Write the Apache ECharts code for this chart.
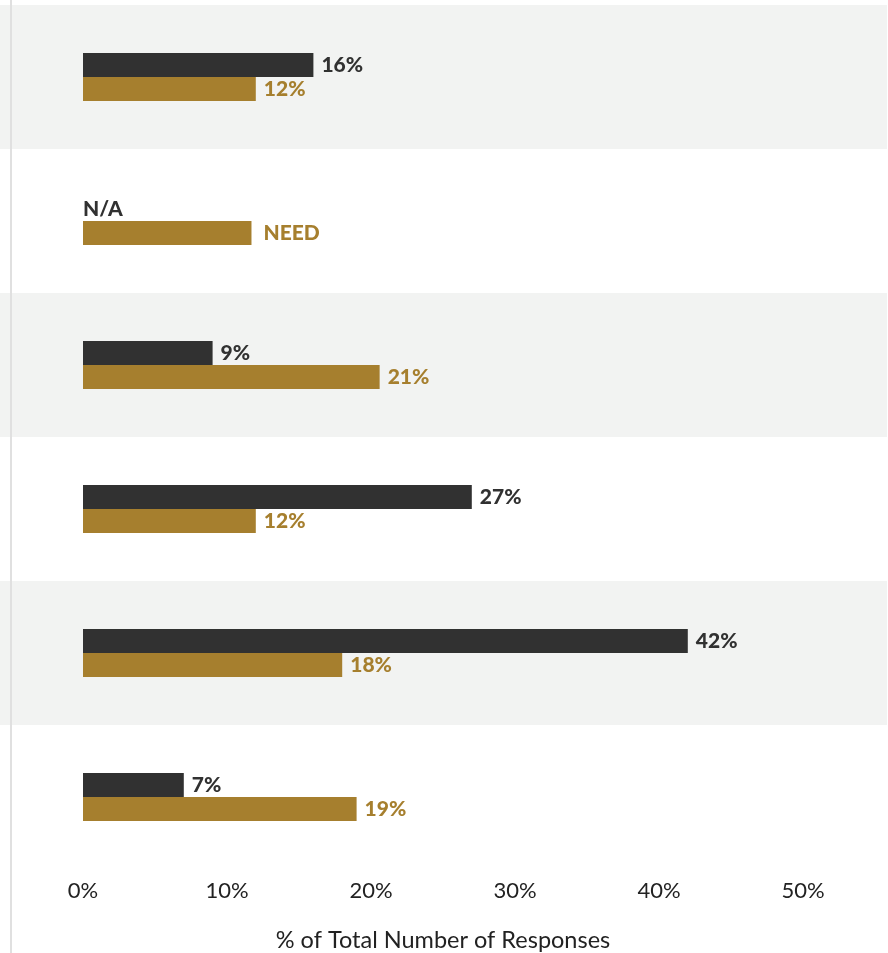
<!DOCTYPE html>
<html>
<head>
<meta charset="utf-8">
<script src="https://cdn.jsdelivr.net/npm/echarts@6/dist/echarts.min.js"></script>
<style>
  html, body { margin: 0; padding: 0; background: #fff; }
  #chart { width: 888px; height: 953px; }
</style>
</head>
<body>
<div id="chart"></div>
<script>
// rows are unlabeled in the original, top to bottom
var categories = ['Row 1', 'Row 2', 'Row 3', 'Row 4', 'Row 5', 'Row 6']
var darkValues = [16, 0, 9, 27, 42, 7]
var goldValues = [12, 11.7, 20.6, 12, 18, 19]
var darkLabels = ['16%', 'N/A', '9%', '27%', '42%', '7%']
var goldLabels = ['12%', 'NEED', '21%', '12%', '18%', '19%']
var xTicks = [0, 10, 20, 30, 40, 50]

var DARK = '#313131'
var GOLD = '#a67f2e'
var FONT = 'Lato'

var chart = echarts.init(document.getElementById('chart'))

function barItems (values, labels, extra) {
  return values.map(function (v, i) {
    var item = { value: v, label: { formatter: labels[i] } }
    if (extra && extra[i]) item.label.offset = extra[i]
    return item
  })
}

var option = {
  backgroundColor: '#fff',
  animation: false,
  graphic: [{
    type: 'rect',
    shape: { x: 10, y: 0, width: 2, height: 953 },
    style: { fill: '#e0e0e0' },
    z: 10
  }],
  grid: [
    // background bands across the full width
    { left: 0, right: 1, top: 5, bottom: 84, outerBoundsMode: 'none' },
    { left: 83, right: 85, top: 5, bottom: 84, outerBoundsMode: 'none' }
  ],
  xAxis: [
    { gridIndex: 0, type: 'value', show: false, min: 0, max: 1 },
    {
      gridIndex: 1,
      type: 'value',
      min: xTicks[0],
      max: xTicks[xTicks.length - 1],
      interval: 10,
      axisLine: { show: false },
      axisTick: { show: false },
      splitLine: { show: false },
      axisLabel: {
        formatter: '{value}%',
        color: '#222',
        fontFamily: FONT,
        fontSize: 22,
        margin: 11
      },
      name: '% of Total Number of Responses',
      nameLocation: 'middle',
      nameGap: 59,
      nameTextStyle: { color: '#222', fontFamily: FONT, fontSize: 23.5 }
    }
  ],
  yAxis: [
    {
      gridIndex: 0,
      type: 'category',
      data: categories,
      inverse: true,
      axisLine: { show: false },
      axisTick: { show: false },
      axisLabel: { show: false },
      splitArea: { show: true, areaStyle: { color: ['#f2f3f2', '#ffffff'] } }
    },
    {
      gridIndex: 1,
      type: 'category',
      data: categories,
      inverse: true,
      axisLine: { show: false },
      axisTick: { show: false },
      axisLabel: { show: false }
    }
  ],
  series: [
    {
      type: 'bar',
      xAxisIndex: 1,
      yAxisIndex: 1,
      data: barItems(darkValues, darkLabels, { 1: [-8, 0] }),
      barWidth: 24,
      barGap: '0%',
      itemStyle: { color: DARK },
      label: {
        show: true,
        position: 'right',
        distance: 8,
        color: DARK,
        fontFamily: FONT,
        fontWeight: 900,
        fontSize: 21
      }
    },
    {
      type: 'bar',
      xAxisIndex: 1,
      yAxisIndex: 1,
      data: barItems(goldValues, goldLabels, { 1: [4, 0] }),
      barWidth: 24,
      barGap: '0%',
      itemStyle: { color: GOLD },
      label: {
        show: true,
        position: 'right',
        distance: 8,
        color: GOLD,
        fontFamily: FONT,
        fontWeight: 900,
        fontSize: 21
      }
    }
  ]
}

chart.setOption(option)
</script>
</body>
</html>
